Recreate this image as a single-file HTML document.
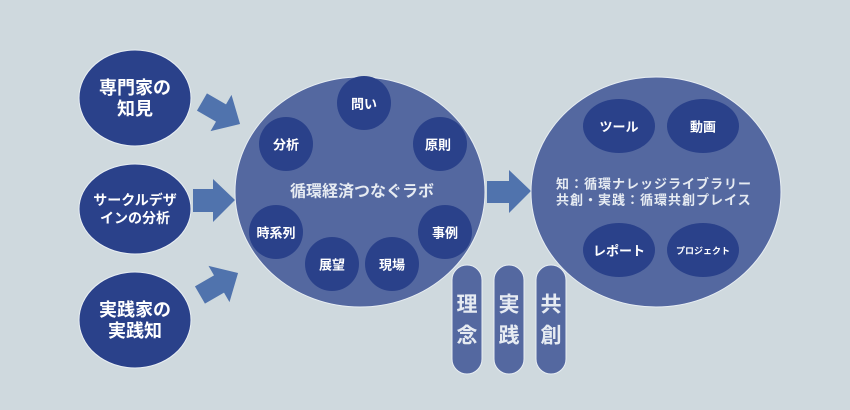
<!DOCTYPE html>
<html><head><meta charset="utf-8"><style>
html,body{margin:0;padding:0;background:#cfd9de;}
svg{display:block}
text{font-family:"Liberation Sans","Noto Sans CJK JP",sans-serif;font-weight:bold;text-anchor:middle;dominant-baseline:central}
</style></head><body>
<svg width="850" height="410" viewBox="0 0 850 410">
<rect width="850" height="410" fill="#cfd9de"/>
<g fill="#2a418a" stroke="#e8eef3" stroke-width="1">
<ellipse cx="135" cy="98" rx="56" ry="48"/>
<ellipse cx="135" cy="209" rx="56" ry="45"/>
<ellipse cx="135" cy="320" rx="56" ry="48"/>
</g>
<g fill="#fff" font-size="18">
<text x="135" y="88">専門家の</text><text x="135" y="109">知見</text>
<text x="135" y="310">実践家の</text><text x="135" y="331">実践知</text>
</g>
<g fill="#fff" font-size="14">
<text x="135" y="200">サークルデザ</text><text x="135" y="218">インの分析</text>
</g>
<g fill="#5073ad">
<polygon transform="translate(221,113) rotate(30)" points="-22,-10 0,-10 0,-21 22,0 0,21 0,10 -22,10"/>
<polygon transform="translate(219,284) rotate(-30)" points="-22,-10 0,-10 0,-21 22,0 0,21 0,10 -22,10"/>
<polygon points="193,189 213,189 213,179 235,200 213,222 213,212 193,212"/>
<polygon points="487,181 509,181 509,170 531,191 509,213 509,203 487,203"/>
</g>
<ellipse cx="360" cy="192" rx="125" ry="115" fill="#5468a0" stroke="#e8eef3" stroke-width="1"/>
<ellipse cx="656" cy="192" rx="125" ry="115" fill="#5468a0" stroke="#e8eef3" stroke-width="1"/>
<g fill="#2a418a">
<circle cx="364" cy="103" r="27"/>
<circle cx="286" cy="144" r="27"/>
<circle cx="440" cy="144" r="27"/>
<circle cx="276" cy="232" r="27"/>
<circle cx="445" cy="232" r="27"/>
<circle cx="332" cy="264" r="27"/>
<circle cx="392" cy="264" r="27"/>
<ellipse cx="619" cy="126" rx="36" ry="27"/>
<ellipse cx="703" cy="126" rx="36" ry="27"/>
<ellipse cx="619" cy="250" rx="36" ry="27"/>
<ellipse cx="703" cy="250" rx="36" ry="27"/>
</g>
<g fill="#fff" font-size="13">
<text x="364" y="104">問い</text>
<text x="286" y="145">分析</text>
<text x="438" y="145">原則</text>
<text x="276" y="233">時系列</text>
<text x="445" y="233">事例</text>
<text x="332" y="265">展望</text>
<text x="392" y="265">現場</text>
<text x="619" y="127">ツール</text>
<text x="703" y="127">動画</text>
<text x="619" y="251">レポート</text>
<text x="703" y="251" font-size="9">プロジェクト</text>
</g>
<text x="362" y="192" fill="#e6ebf2" font-size="16">循環経済つなぐラボ</text>
<g fill="#e6ebf2" font-size="13">
<text x="556" y="184" style="text-anchor:start;letter-spacing:1px">知：循環ナレッジライブラリー</text>
<text x="556" y="200" style="text-anchor:start;letter-spacing:1px">共創・実践：循環共創プレイス</text>
</g>
<g fill="#5468a0" stroke="#e8eef3" stroke-width="1">
<rect x="452" y="265" width="30" height="109" rx="15"/>
<rect x="494" y="265" width="30" height="109" rx="15"/>
<rect x="536" y="265" width="30" height="109" rx="15"/>
</g>
<g fill="#e6ebf2" font-size="21">
<text x="467" y="305">理</text><text x="467" y="336">念</text>
<text x="509" y="305">実</text><text x="509" y="336">践</text>
<text x="551" y="305">共</text><text x="551" y="336">創</text>
</g>
</svg>
</body></html>
